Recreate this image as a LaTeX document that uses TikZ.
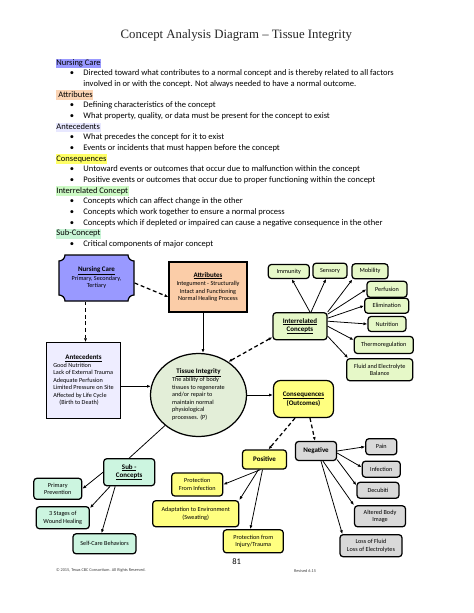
\documentclass[tikz,border=0pt]{standalone}
\usepackage{fontspec}
\setmainfont{Carlito}
\newfontfamily\titlefont{Liberation Serif}
\usetikzlibrary{calc,shapes.geometric,arrows.meta}
\definecolor{ncblue}{RGB}{153,153,255}
\definecolor{atpeach}{RGB}{251,205,168}
\definecolor{anlav}{RGB}{238,237,255}
\definecolor{tigreen}{RGB}{227,238,216}
\definecolor{coyel}{RGB}{255,255,128}
\definecolor{negrey}{RGB}{217,217,217}
\definecolor{icgreen}{RGB}{230,248,200}
\definecolor{scmint}{RGB}{204,245,224}
\definecolor{hlnc}{RGB}{153,153,255}
\definecolor{hlat}{RGB}{251,212,180}
\definecolor{hlan}{RGB}{232,232,255}
\definecolor{hlco}{RGB}{255,255,102}
\definecolor{hlic}{RGB}{204,250,196}
\definecolor{hlsc}{RGB}{200,245,214}
\newcommand\hd[1]{{\fontsize{9}{10}\selectfont\bfseries\underline{#1}}}
\newcommand\bd[1]{{\fontsize{9}{10}\selectfont\bfseries #1}}
\tikzset{
  wh/.style 2 args={minimum width=#1*1.291pt,minimum height=#2*1.291pt},
  box/.style={draw,line width=1.6pt,inner sep=1pt,align=center,font=\fontsize{8}{9.6}\selectfont},
  rbox/.style={box,rounded corners=4pt},
  arr/.style={-{Latex[length=5pt,width=4pt]},line width=1pt},
  dasharr/.style={arr,line width=1.6pt,dash pattern=on 5pt off 3.5pt},
  dasharr2/.style={dasharr,{Latex[length=5pt,width=4pt]}-{Latex[length=5pt,width=4pt]}},
  hl/.style={anchor=west,inner xsep=1pt,inner ysep=1.3pt,text height=7.6pt,text depth=2.2pt},
  item/.style={anchor=west,inner sep=0pt,text height=7.6pt,text depth=2.2pt}
}
\begin{document}
\begin{tikzpicture}[x=1.291pt,y=-1.291pt,font=\fontsize{11}{13}\selectfont]
    \fill[white] (0,0) rectangle (474,613);
    \useasboundingbox (0,0) rectangle (474,613);
    \node[font=\titlefont\fontsize{16.5}{18}\selectfont,text=black!85] (title) at (236.3,35.7) {Concept Analysis Diagram – Tissue Integrity};
    \node[hl,fill=hlnc] (hnc) at (55.5,63.3) {Nursing Care};
    \node[hl,fill=hlat] (hat) at (55.5,95) {\ Attributes};
    \node[hl,fill=hlan] (han) at (55.5,127.3) {Antecedents};
    \node[hl,fill=hlco] (hco) at (55.5,159) {Consequences};
    \node[hl,fill=hlic] (hic) at (55.5,191) {Interrelated Concept};
    \node[hl,fill=hlsc] (hsc) at (55.5,233.7) {Sub-Concept};
    \foreach \y/\t [count=\i] in {73.3/{Directed toward what contributes to a normal concept and is thereby related to all factors},
        105.7/{Defining characteristics of the concept},
        116.7/{What property, quality, or data must be present for the concept to exist},
        137.3/{What precedes the concept for it to exist},
        148.3/{Events or incidents that must happen before the concept},
        169.7/{Untoward events or outcomes that occur due to malfunction within the concept},
        180.3/{Positive events or outcomes that occur due to proper functioning within the concept},
        201.7/{Concepts which can affect change in the other},
        212.3/{Concepts which work together to ensure a normal process},
        223/{Concepts which if depleted or impaired can cause a negative consequence in the other},
        244.3/{Critical components of major concept}}
    {
        \node[item] (dot\i) at (69.6,\y) {\textbullet};
        \node[item] (txt\i) at (83.3,\y) {\t};
    }
    \node[item] (txt1b) at (83.3,84.3) {involved in or with the concept. Not always needed to have a normal outcome.};
    \filldraw[fill=ncblue,line width=1.6pt] (65,255) -- (128,255) .. controls (128,258.3) and (130.7,261) .. (134,261)
        -- (134,295) .. controls (130.7,295) and (128,297.7) .. (128,301)
        -- (65,301) .. controls (65,297.7) and (62.3,295) .. (59,295)
        -- (59,261) .. controls (62.3,261) and (65,258.3) .. (65,255) -- cycle;
    \node[box,draw=none,wh={75}{46}] (nc) at (96.5,278) {\hd{Nursing Care}\\[1.5pt] Primary, Secondary,\\ Tertiary};
    \node[box,fill=atpeach,wh={78}{50}] (attr) at (208,287) {\hd{Attributes}\\[1pt] Integument - Structurally\\ Intact and Functioning\\ Normal Healing Process};
    \node[box,fill=anlav,wh={74}{76}] (ante) at (83.5,380.8) {\begin{tabular}{@{}l@{}}\multicolumn{1}{@{}c@{}}{\hd{Antecedents}}\\ Good Nutrition\\ Lack of External Trauma\\ Adequate Perfusion\\ Limited Pressure on Site\\ Affected by Life Cycle\\ \quad(Birth to Death)\end{tabular}};
    \node[box,ellipse,fill=tigreen,wh={96}{83},inner sep=0pt] (ti) at (198.5,395) {\begin{tabular}{@{}l@{}}\multicolumn{1}{@{}c@{}}{\hd{Tissue Integrity}}\\ The ability of body\\ tissues to regenerate\\ and/or repair to\\ maintain normal\\ physiological\\ processes. (P)\end{tabular}};
    \node[box,rounded corners=9pt,fill=coyel,wh={60}{37}] (cons) at (303.5,399) {\hd{Consequences}\\[1pt] \bd{(Outcomes)}};
    \node[rbox,fill=coyel,wh={44}{19}] (pos) at (264.5,459.5) {\bd{Positive}};
    \node[rbox,fill=negrey,wh={41}{19}] (neg) at (316,451) {\bd{Negative}};
    \node[rbox,fill=negrey,wh={31}{16}] (pain) at (381.3,446.7) {Pain};
    \node[rbox,fill=negrey,wh={38}{16}] (inf) at (381.3,469.2) {Infection};
    \node[rbox,fill=negrey,wh={42}{16}] (dec) at (378,490.3) {Decubiti};
    \node[rbox,fill=negrey,wh={51}{21}] (alt) at (380,516.3) {Altered Body\\ Image};
    \node[rbox,fill=negrey,wh={62}{22}] (loss) at (371,545.7) {Loss of Fluid\\ Loss of Electrolytes};
    \node[rbox,fill=coyel,wh={51}{23}] (pfi) at (197.2,484.5) {Protection\\ From Infection};
    \node[rbox,fill=coyel,wh={86}{26}] (adapt) at (195.7,513.7) {Adaptation to Environment\\ (Sweating)};
    \node[rbox,fill=coyel,wh={60}{23}] (inj) at (253.3,541.3) {Protection from\\ Injury/Trauma};
    \node[rbox,fill=scmint,wh={51}{27}] (sub) at (129.2,472.2) {\hd{Sub -}\\[1pt] \hd{Concepts}};
    \node[rbox,fill=scmint,wh={48}{21}] (pp) at (57.8,488.8) {Primary\\ Prevention};
    \node[rbox,fill=scmint,wh={53}{22}] (stages) at (62.8,517.7) {3 Stages of\\ Wound Healing};
    \node[rbox,fill=scmint,wh={63}{20}] (sc) at (104.5,543.8) {Self-Care Behaviors};
    \node[rbox,fill=icgreen,wh={54}{27}] (ic) at (300,326.2) {\hd{Interrelated}\\[1pt] \hd{Concepts}};
    \node[rbox,fill=icgreen,wh={41}{14}] (imm) at (288.8,271.5) {Immunity};
    \node[rbox,fill=icgreen,wh={34}{15}] (sens) at (330,270.7) {Sensory};
    \node[rbox,fill=icgreen,wh={36}{15}] (mob) at (370,271.3) {Mobility};
    \node[rbox,fill=icgreen,wh={40}{16}] (perf) at (387,289.3) {Perfusion};
    \node[rbox,fill=icgreen,wh={44}{15}] (elim) at (386.7,305.7) {Elimination};
    \node[rbox,fill=icgreen,wh={38}{15}] (nutr) at (387,324) {Nutrition};
    \node[rbox,fill=icgreen,wh={59}{17}] (therm) at (383.8,345) {Thermoregulation};
    \node[rbox,fill=icgreen,wh={66}{22}] (fluid) at (379.7,369.7) {Fluid and Electrolyte\\ Balance};
    \draw[dasharr] ($(nc.east)+(0,5)$) -- ($(attr.west)+(0,10)$);
    \draw[dasharr] ($(nc.south)+(-11,0)$) -- ($(ante.north)+(2,0)$);
    \draw[dasharr2] (ti.48) -- ($(ic.west)+(0,11)$);
    \draw[dasharr] ($(cons.south)+(-8.5,0)$) -- ($(pos.north)+(4,0)$);
    \draw[dasharr] ($(cons.south)+(6.5,0)$) -- ($(neg.north)+(-1,0)$);
    \draw[arr] ($(attr.south)+(-5,0)$) coordinate (a1) -- (a1 |- ti.north);
    \draw[arr] ($(ante.east)+(0,5.5)$) coordinate (a2) -- ($(a2 -| ti.west)+(1,0)$);
    \draw[arr] (ti.east) -- (ti.east -| cons.west);
    \draw[line width=1pt] (ti) -- (sub.north);
    \draw[arr] ($(ic.north)+(10,0)$) -- ($(imm.south)+(3,0)$);
    \draw[arr] ($(ic.north)+(11,0)$) -- ($(sens.south)+(-4,0)$);
    \draw[arr] (ic.north east) -- ($(mob.south west)+(1,0)$);
    \draw[arr] ($(ic.east)+(0,-12)$) -- (perf.west);
    \draw[arr] ($(ic.east)+(0,-8)$) -- (elim.west);
    \draw[arr] ($(ic.east)+(0,-5)$) -- (nutr.west);
    \draw[arr] (ic.east) -- ($(therm.west)+(0,-5)$);
    \draw[arr] ($(ic.east)+(0,10)$) -- ($(fluid.north west)+(2,0)$);
    \draw[arr] (neg.east) -- (pain.west);
    \draw[arr] ($(neg.east)+(0,2)$) -- ($(inf.west)+(0,-2)$);
    \draw[arr] ($(neg.south east)+(0,-1.5)$) -- ($(dec.west)+(0,-5)$);
    \draw[arr] ($(neg.south)+(7,0)$) -- (alt.north west);
    \draw[arr] ($(neg.south)+(5,0)$) -- ($(loss.north west)+(3,0)$);
    \draw[arr] ($(pos.south)+(-4,0)$) -- (pfi.east);
    \draw[arr] ($(pos.south)+(-6,0)$) -- (adapt.north east);
    \draw[arr] ($(pos.south)+(-2,0)$) -- ($(inj.north)+(-3,0)$);
    \draw[arr] (sub.west) -- (pp.east);
    \draw[arr] ($(sub.south west)+(7,0)$) -- ($(stages.north east)+(0,2)$);
    \draw[arr] ($(sub.south)+(-14,0)$) -- ($(sc.north)+(-3,0)$);
    \node (page) at (236.6,561.7) {81};
    \node[anchor=west,inner sep=0pt,font=\fontsize{5.5}{6}\selectfont,text=black!75] (copy) at (56,570.7) {© 2015, Texas CBC Consortium. All Rights Reserved.};
    \node[anchor=west,inner sep=0pt,font=\fontsize{5.5}{6}\selectfont,text=black!75] (rev) at (294,570.7) {Revised 6.15};
\end{tikzpicture}
\end{document}
